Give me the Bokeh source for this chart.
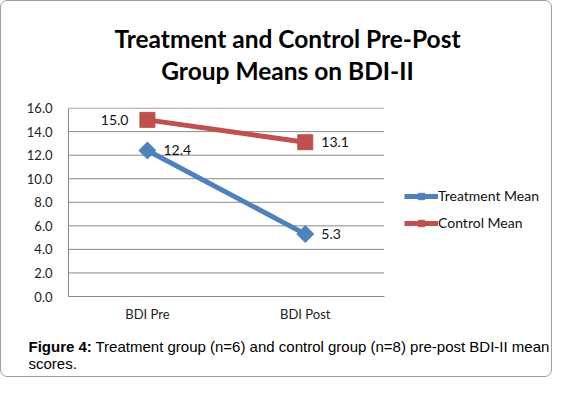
from bokeh.plotting import figure
from bokeh.models import (ColumnDataSource, Legend, LegendItem, Label, Range1d,
                          FixedTicker, NumeralTickFormatter)
from bokeh.core.properties import value
from bokeh.embed import file_html
from bokeh.resources import INLINE
import math

categories = ["BDI Pre", "BDI Post"]
treatment_mean = [12.4, 5.3]
control_mean = [15.0, 13.1]
treatment_labels = ["12.4", "5.3"]
control_labels = ["15.0", "13.1"]
series_names = ["Treatment Mean", "Control Mean"]
y_ticks = [0, 2, 4, 6, 8, 10, 12, 14, 16]
title_lines = ["Treatment and Control Pre-Post", "Group Means on BDI-II"]
caption_bold = "Figure 4:"
caption_rest = "Treatment group (n=6) and control group (n=8) pre-post BDI-II mean"
caption_line2 = "scores."

BLUE = "#4F81BD"
RED = "#C0504D"
GRID = "#8a8a8a"
FONT = "Lato"
TXT = "#111111"

n = len(categories)
xpos = [i + 0.5 for i in range(n)]

# frame spans plot area plus legend area (so the legend is not clipped)
p = figure(width=552, height=377, x_range=Range1d(0, 3.06), y_range=Range1d(0, 16.05),
           output_backend="svg", toolbar_location=None, title=None,
           min_border_left=67, min_border_right=2, min_border_top=106, min_border_bottom=82)
p.outline_line_color = None
p.background_fill_color = "white"
p.border_fill_alpha = 0
p.styles = {"border": "1px solid #a0a0a0", "border-radius": "7px", "box-sizing": "border-box"}

# axes
p.xaxis.ticker = FixedTicker(ticks=xpos)
p.xaxis.major_label_overrides = {x: c for x, c in zip(xpos, categories)}
p.xaxis.bounds = (0, n)
p.yaxis.ticker = FixedTicker(ticks=y_ticks)
p.yaxis.formatter = NumeralTickFormatter(format="0.0")
p.yaxis.bounds = (0, y_ticks[-1])
for ax in (p.xaxis[0], p.yaxis[0]):
    ax.major_tick_line_color = None
    ax.minor_tick_line_color = None
    ax.axis_line_color = GRID
    ax.major_label_text_font = FONT
    ax.major_label_text_font_size = "13px"
    ax.major_label_text_color = "#222222"
p.yaxis.major_label_standoff = 10
p.xaxis.major_label_standoff = 3
p.xgrid.grid_line_color = None
p.ygrid.grid_line_color = None

# horizontal gridlines limited to the plot area
gy = y_ticks[1:]
p.segment(x0=[0] * len(gy), x1=[n] * len(gy), y0=gy, y1=gy, line_color=GRID, line_width=1)

src = ColumnDataSource(dict(x=xpos, t=treatment_mean, c=control_mean,
                            tl=treatment_labels, cl=control_labels))

tl = p.line("x", "t", source=src, line_color=BLUE, line_width=5)
tm = p.scatter("x", "t", source=src, marker="square", size=12, angle=math.pi / 4,
               fill_color=BLUE, line_color=BLUE)
cl = p.line("x", "c", source=src, line_color=RED, line_width=5)
cm = p.scatter("x", "c", source=src, marker="square", size=15,
               fill_color=RED, line_color=RED)

# data labels
p.text("x", "t", text="tl", source=src, x_offset=16, text_align="left", text_baseline="middle",
       text_font=value(FONT), text_font_size="14px", text_color=TXT)
p.text(x=[xpos[0]], y=[control_mean[0]], text=[control_labels[0]], x_offset=-19,
       text_align="right", text_baseline="middle",
       text_font=value(FONT), text_font_size="14px", text_color=TXT)
p.text(x=[xpos[1]], y=[control_mean[1]], text=[control_labels[1]], x_offset=16,
       text_align="left", text_baseline="middle",
       text_font=value(FONT), text_font_size="14px", text_color=TXT)

legend = Legend(items=[LegendItem(label=series_names[0], renderers=[tl, tm]),
                       LegendItem(label=series_names[1], renderers=[cl, cm])],
                location=(336, 65), glyph_width=34, glyph_height=16, label_height=16,
                label_standoff=0, spacing=10, padding=0, margin=0,
                border_line_color=None, background_fill_alpha=0,
                label_text_font=FONT, label_text_font_size="14px", label_text_color=TXT)
p.add_layout(legend, "center")

# title (two lines), canvas units
for i, line in enumerate(title_lines):
    p.add_layout(Label(x=285, y=35.5 + 32 * i, x_units="canvas", y_units="canvas", text=line,
                       text_align="center", text_baseline="alphabetic", text_font=FONT,
                       text_font_size="24.5px", text_font_style="bold",
                       text_color="#000000"), "above")

# caption, canvas units
CAP = "15px"
p.add_layout(Label(x=26, y=343.5, x_units="canvas", y_units="canvas", text=caption_bold,
                   text_align="left", text_baseline="alphabetic", text_font="Liberation Sans",
                   text_font_size=CAP, text_font_style="bold", text_color="#000000"), "below")
p.add_layout(Label(x=93, y=343.5, x_units="canvas", y_units="canvas", text=caption_rest,
                   text_align="left", text_baseline="alphabetic", text_font="Liberation Sans",
                   text_font_size=CAP, text_color="#000000"), "below")
p.add_layout(Label(x=26, y=360.5, x_units="canvas", y_units="canvas", text=caption_line2,
                   text_align="left", text_baseline="alphabetic", text_font="Liberation Sans",
                   text_font_size=CAP, text_color="#000000"), "above")

open("out.html", "w").write(file_html(p, INLINE))
